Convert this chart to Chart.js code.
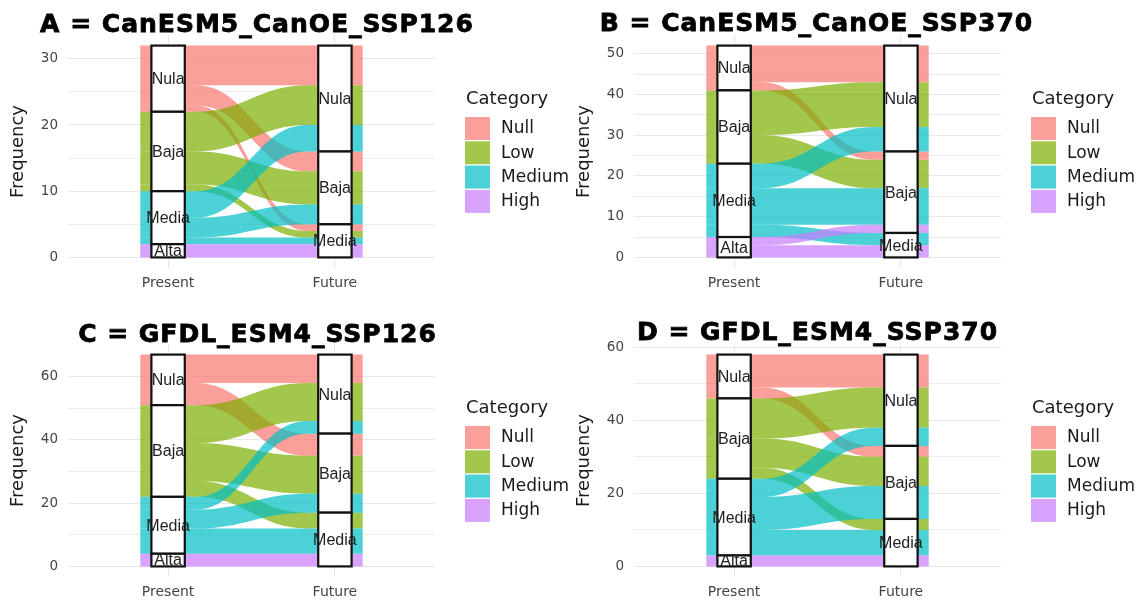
<!DOCTYPE html>
<html>
<head>
<meta charset="utf-8">
<title>Alluvial plots</title>
<script src="https://cdn.jsdelivr.net/npm/chart.js@4.4.1/dist/chart.umd.min.js"></script>
<style>
  html, body { margin: 0; padding: 0; background: #fff; }
  body { width: 1137px; height: 603px; position: relative; overflow: hidden; }
  .panel { position: absolute; }
</style>
</head>
<body>
<div class="panel" style="left:0;top:0;width:568px;height:300px"><canvas id="chartA"></canvas></div>
<div class="panel" style="left:566px;top:0;width:571px;height:300px"><canvas id="chartB"></canvas></div>
<div class="panel" style="left:0;top:300px;width:568px;height:303px"><canvas id="chartC"></canvas></div>
<div class="panel" style="left:566px;top:300px;width:571px;height:303px"><canvas id="chartD"></canvas></div>
<script>
// ---- data ----
const legendLabels = ['Null', 'Low', 'Medium', 'High'];
const presentStrata = ['Nula', 'Baja', 'Media', 'Alta'];   // top to bottom
const futureStrata = ['Nula', 'Baja', 'Media'];
const xLabels = ['Present', 'Future'];
const categoryColors = ['#F8766D', '#7CAE00', '#00BFC4', '#C77CFF'];

const titles = [
    'A = CanESM5_CanOE_SSP126',
    'B = CanESM5_CanOE_SSP370',
    'C = GFDL_ESM4_SSP126',
    'D = GFDL_ESM4_SSP370'
];

// rows = present stratum (Nula, Baja, Media, Alta), cols = future stratum (Nula, Baja, Media)
const flowsA = [[6, 3, 1], [6, 5, 1], [4, 3, 1], [0, 0, 2]];
const flowsB = [[9, 2, 0], [11, 7, 0], [6, 9, 3], [0, 2, 3]];
const flowsC = [[9, 7, 0], [12, 12, 5], [4, 6, 8], [0, 0, 4]];
const flowsD = [[9, 3, 0], [11, 8, 3], [5, 9, 7], [0, 0, 3]];

const yTicksA = [0, 10, 20, 30];
const yMinorA = [5, 15, 25];
const yTicksB = [0, 10, 20, 30, 40, 50];
const yMinorB = [5, 15, 25, 35, 45];
const yTicksC = [0, 20, 40, 60];
const yMinorC = [10, 30, 50];
const yTicksD = [0, 20, 40, 60];
const yMinorD = [10, 30, 50];

// ---- helpers ----
const FLOW_ALPHA = 0.7;
const FLOW_HALF = 1 / 6;     // half width of the flows (x units)
const BOX_HALF = 0.1;        // half width of the stratum boxes
const TEXT = '#1A1A1A';

function rgba(hex, a) {
    const n = parseInt(hex.slice(1), 16);
    return `rgba(${(n >> 16) & 255}, ${(n >> 8) & 255}, ${n & 255}, ${a})`;
}

const sum = arr => arr.reduce((a, b) => a + b, 0);

function buildAlluvial(flows) {
    const total = sum(flows.map(sum));
    const present = [];
    let top = total;
    flows.forEach((row, i) => {
        const n = sum(row);
        present.push({ label: presentStrata[i], hi: top, lo: top - n });
        top -= n;
    });
    const future = [];
    top = total;
    futureStrata.forEach((label, j) => {
        const n = sum(flows.map(row => row[j]));
        future.push({ label, hi: top, lo: top - n });
        top -= n;
    });
    const pCursor = present.map(s => s.hi);
    const fCursor = future.map(s => s.hi);
    const ribbons = [];
    flows.forEach((row, i) => {
        row.forEach((n, j) => {
            if (!n) return;
            ribbons.push({ cat: i, p: [pCursor[i], pCursor[i] - n], f: [fCursor[j], fCursor[j] - n] });
            pCursor[i] -= n;
            fCursor[j] -= n;
        });
    });
    return { total, present, future, ribbons };
}

const alluvialPlugin = {
    id: 'alluvial',
    beforeDatasetsDraw(chart, args, opts) {
        const { ctx, scales: { x, y } } = chart;
        const lay = opts.layout;
        const xa = x.getPixelForValue(1 - FLOW_HALF);
        const xb = x.getPixelForValue(1 + FLOW_HALF);
        const xc = x.getPixelForValue(2 - FLOW_HALF);
        const xd = x.getPixelForValue(2 + FLOW_HALF);
        const k = (xc - xb) * 0.45;
        ctx.save();
        lay.ribbons.forEach(r => {
            const p0 = y.getPixelForValue(r.p[0]), p1 = y.getPixelForValue(r.p[1]);
            const f0 = y.getPixelForValue(r.f[0]), f1 = y.getPixelForValue(r.f[1]);
            ctx.beginPath();
            ctx.moveTo(xa, p0);
            ctx.lineTo(xb, p0);
            ctx.bezierCurveTo(xb + k, p0, xc - k, f0, xc, f0);
            ctx.lineTo(xd, f0);
            ctx.lineTo(xd, f1);
            ctx.lineTo(xc, f1);
            ctx.bezierCurveTo(xc - k, f1, xb + k, p1, xb, p1);
            ctx.lineTo(xa, p1);
            ctx.closePath();
            ctx.fillStyle = rgba(categoryColors[r.cat], FLOW_ALPHA);
            ctx.fill();
        });

        // strata boxes
        const drawStrata = (strata, pos) => {
            const l = x.getPixelForValue(pos - BOX_HALF);
            const rr = x.getPixelForValue(pos + BOX_HALF);
            strata.forEach(s => {
                if (s.hi === s.lo) return;
                const t = y.getPixelForValue(s.hi), b = y.getPixelForValue(s.lo);
                ctx.fillStyle = '#fff';
                ctx.fillRect(l, t, rr - l, b - t);
                ctx.lineWidth = 2.2;
                ctx.strokeStyle = '#111';
                ctx.strokeRect(l, t, rr - l, b - t);
            });
            ctx.fillStyle = '#222';
            ctx.font = '16px "Liberation Sans", Arial, sans-serif';
            ctx.textAlign = 'center';
            ctx.textBaseline = 'middle';
            strata.forEach(s => {
                if (s.hi === s.lo) return;
                const t = y.getPixelForValue(s.hi), b = y.getPixelForValue(s.lo);
                ctx.fillText(s.label, (l + rr) / 2, (t + b) / 2 + 1);
            });
        };
        drawStrata(lay.present, 1);
        drawStrata(lay.future, 2);
        ctx.restore();
    },
    afterDraw(chart, args, opts) {
        const { ctx, chartArea } = chart;
        ctx.save();
        // panel title
        ctx.fillStyle = '#000';
        ctx.strokeStyle = '#000';
        ctx.lineWidth = 0.8;
        ctx.font = 'bold 25px "DejaVu Sans", Verdana, sans-serif';
        if ('letterSpacing' in ctx) ctx.letterSpacing = '1px';
        ctx.textAlign = 'center';
        ctx.textBaseline = 'alphabetic';
        const tx = (chartArea.left + chartArea.right) / 2 + opts.titleShift;
        ctx.fillText(opts.title, tx, opts.titleY);
        ctx.strokeText(opts.title, tx, opts.titleY);
        if ('letterSpacing' in ctx) ctx.letterSpacing = '0px';

        // legend
        const lx = chartArea.right;
        const cy = (chartArea.top + chartArea.bottom) / 2;
        ctx.textAlign = 'left';
        ctx.fillStyle = TEXT;
        ctx.font = '18px "DejaVu Sans", Verdana, sans-serif';
        ctx.fillText('Category', lx + 31, cy - 47.5);
        ctx.font = '17px "DejaVu Sans", Verdana, sans-serif';
        ctx.textBaseline = 'middle';
        legendLabels.forEach((lab, i) => {
            const top = cy - 34.5 + i * 24.3;
            ctx.fillStyle = rgba(categoryColors[i], FLOW_ALPHA);
            ctx.fillRect(lx + 30, top, 25, 23);
            ctx.fillStyle = TEXT;
            ctx.fillText(lab, lx + 66, top + 12);
        });
        ctx.restore();
    }
};

function makeChart(id, flows, major, minor, title, opts) {
    const lay = buildAlluvial(flows);
    const yTicks = major.concat(minor).sort((a, b) => a - b);
    return new Chart(document.getElementById(id), {
        type: 'scatter',
        data: { datasets: [] },
        plugins: [alluvialPlugin],
        options: {
            responsive: true,
            maintainAspectRatio: false,
            animation: false,
            layout: { padding: { top: opts.top, right: opts.right, bottom: 0, left: 0 } },
            plugins: {
                legend: { display: false },
                tooltip: { enabled: false },
                alluvial: { layout: lay, title, titleY: opts.titleY, titleShift: opts.titleShift }
            },
            scales: {
                x: {
                    type: 'linear',
                    min: 0.4,
                    max: 2.6,
                    afterBuildTicks: s => { s.ticks = [{ value: 1 }, { value: 2 }]; },
                    afterFit: s => { s.height = opts.xHeight; },
                    ticks: {
                        callback: v => xLabels[v - 1],
                        color: '#444',
                        font: { family: 'DejaVu Sans', size: 14 },
                        padding: 7,
                        autoSkip: false,
                        maxRotation: 0
                    },
                    grid: { color: '#E8E8E8', lineWidth: 1.1, drawTicks: false },
                    border: { display: false }
                },
                y: {
                    min: -0.05 * lay.total,
                    max: 1.05 * lay.total,
                    afterBuildTicks: s => { s.ticks = yTicks.map(v => ({ value: v })); },
                    afterFit: s => { s.width = 68; },
                    ticks: {
                        callback: v => major.includes(v) ? String(v) : '',
                        color: '#444',
                        font: { family: 'DejaVu Sans', size: 13.5 },
                        padding: 10,
                        autoSkip: false
                    },
                    grid: {
                        color: '#E8E8E8',
                        lineWidth: c => major.includes(c.tick.value) ? 1.1 : 0.8,
                        drawTicks: false
                    },
                    border: { display: false },
                    title: {
                        display: true,
                        text: 'Frequency',
                        color: TEXT,
                        font: { family: 'DejaVu Sans', size: 18 },
                        padding: { top: 8, bottom: 0 }
                    }
                }
            }
        }
    });
}

makeChart('chartA', flowsA, yTicksA, yMinorA, titles[0], { top: 35, right: 133, xHeight: 32, titleY: 32, titleShift: 5.5 });
makeChart('chartB', flowsB, yTicksB, yMinorB, titles[1], { top: 35, right: 136, xHeight: 32, titleY: 31, titleShift: -1 });
makeChart('chartC', flowsC, yTicksC, yMinorC, titles[2], { top: 44, right: 133, xHeight: 26, titleY: 41.5, titleShift: 6 });
makeChart('chartD', flowsD, yTicksD, yMinorD, titles[3], { top: 44, right: 136, xHeight: 26, titleY: 40, titleShift: 0 });
</script>
</body>
</html>
